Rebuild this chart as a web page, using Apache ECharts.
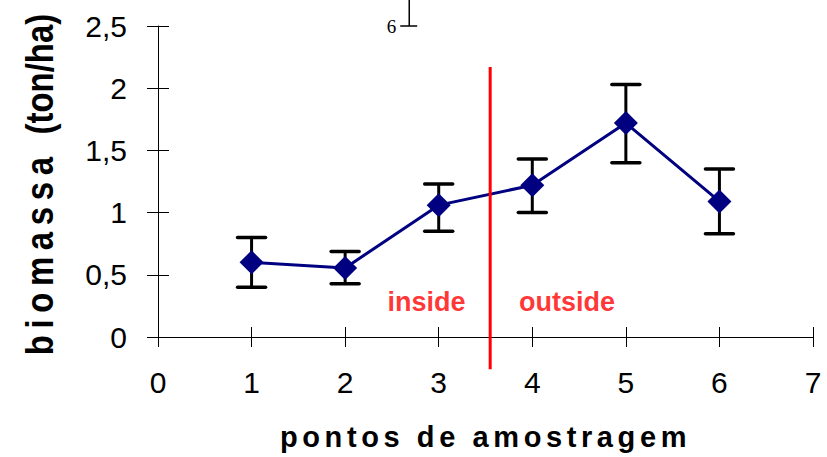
<!DOCTYPE html>
<html>
<head>
<meta charset="utf-8">
<script src="https://cdn.jsdelivr.net/npm/echarts@6/dist/echarts.min.js"></script>
<style>
html,body{margin:0;padding:0;background:#fff;}
#chart{width:827px;height:457px;}
#chart text[style*="29px"][style*="bold"]{letter-spacing:4.6px;}
#chart text[style*="33px"][style*="bold"]{letter-spacing:6.6px;}
</style>
</head>
<body>
<div id="chart"></div>
<script>
// ---- data ----
const xPoints = [1, 2, 3, 4, 5, 6];
const biomass = [0.60, 0.555, 1.06, 1.22, 1.72, 1.09];
const errUpper = [0.80, 0.687, 1.23, 1.43, 2.03, 1.35];
const errLower = [0.40, 0.428, 0.85, 1.00, 1.40, 0.83];
const dividerX = 3.55;
const dividerTop = 2.17;
const dividerBottom = -0.26;
const regionLabels = ['inside', 'outside'];
const regionLabelX = [2.87, 4.37];
const regionLabelY = [0.28, 0.28];
const strayMark = [2.685, 2.5];
const strayText = '6';
const xTitle = 'pontos de amostragem';
const yTitleMain = 'biomassa ';
const yTitleUnit = '(ton/ha)';

const chart = echarts.init(document.getElementById('chart'), null, {renderer: 'svg'});
const tickFont = {fontFamily: 'Liberation Sans', fontSize: 30, color: '#000'};
const fmtComma = v => String(v).replace('.', ',');

const gridLeft = 158, gridTop = 26, gridBottom = 120;
const yTitleSpacing = 6.6;
const measureCtx = document.createElement('canvas').getContext('2d');
measureCtx.font = 'bold 33px "Liberation Sans"';
const yMainWidth = measureCtx.measureText(yTitleMain).width + yTitleMain.length * yTitleSpacing;

const option = {
  animation: false,
  backgroundColor: '#fff',
  grid: {left: gridLeft, right: 14, top: gridTop, bottom: gridBottom, containLabel: false},
  graphic: [{
    type: 'text',
    x: gridLeft - 119, y: (gridTop + (457 - gridBottom)) / 2 + 3,
    rotation: Math.PI / 2, scaleY: 1.2,
    style: {
      text: '{a|' + yTitleMain + '}{b|' + yTitleUnit + '}',
      align: 'center', verticalAlign: 'middle',
      rich: {
        a: {fontFamily: 'Liberation Sans', fontSize: 33, fontWeight: 'bold', fill: '#000', width: yMainWidth},
        b: {fontFamily: 'Liberation Sans', fontSize: 33, fontWeight: 700, fill: '#000'}
      }
    }
  }],
  xAxis: [
    {
      type: 'value', min: 0, max: 7, interval: 1, position: 'bottom',
      axisLine: {show: true, onZero: false, lineStyle: {color: '#000', width: 1}},
      axisTick: {show: true, inside: false, length: 10, lineStyle: {color: '#000', width: 1}},
      axisLabel: Object.assign({margin: 30}, tickFont),
      splitLine: {show: false},
      name: xTitle, nameLocation: 'middle', nameGap: 85,
      nameTextStyle: {fontFamily: 'Liberation Sans', fontSize: 29, fontWeight: 'bold', color: '#000'}
    },
    {
      type: 'value', min: 0, max: 7, interval: 1, position: 'bottom',
      axisLine: {show: false, onZero: false},
      axisTick: {show: true, inside: true, length: 10, lineStyle: {color: '#000', width: 1}},
      axisLabel: {show: false}, splitLine: {show: false}
    }
  ],
  yAxis: [
    {
      type: 'value', min: 0, max: 2.5, interval: 0.5, position: 'left',
      axisLine: {show: true, onZero: false, lineStyle: {color: '#000', width: 1}},
      axisTick: {show: true, inside: false, length: 11, lineStyle: {color: '#000', width: 1}},
      axisLabel: Object.assign({margin: 31, formatter: fmtComma}, tickFont),
      splitLine: {show: false}
    },
    {
      type: 'value', min: 0, max: 2.5, interval: 0.5, position: 'left',
      axisLine: {show: false, onZero: false},
      axisTick: {show: true, inside: true, length: 11, lineStyle: {color: '#000', width: 1}},
      axisLabel: {show: false}, splitLine: {show: false}
    }
  ],
  series: [
    {
      type: 'custom', name: 'error', z: 2, clip: false,
      data: xPoints.map((x, i) => [x, errLower[i], errUpper[i]]),
      renderItem: function (params, api) {
        const x = api.value(0);
        const lo = api.coord([x, api.value(1)]);
        const hi = api.coord([x, api.value(2)]);
        const hw = 14;
        const st = {stroke: '#000', lineWidth: 3.5, lineCap: 'round'};
        return {type: 'group', children: [
          {type: 'line', shape: {x1: hi[0], y1: hi[1], x2: lo[0], y2: lo[1]}, style: {stroke: '#000', lineWidth: 3}},
          {type: 'line', shape: {x1: hi[0] - hw, y1: hi[1], x2: hi[0] + hw, y2: hi[1]}, style: st},
          {type: 'line', shape: {x1: lo[0] - hw, y1: lo[1], x2: lo[0] + hw, y2: lo[1]}, style: st}
        ]};
      }
    },
    {
      type: 'line', name: 'biomassa', z: 3,
      data: xPoints.map((x, i) => [x, biomass[i]]),
      symbol: 'diamond', symbolSize: 24, showSymbol: true,
      lineStyle: {color: '#000080', width: 3},
      itemStyle: {color: '#000080'}
    },
    {
      type: 'line', name: 'divider', z: 4, clip: false,
      data: [[dividerX, dividerTop], [dividerX, dividerBottom]],
      showSymbol: false, symbol: 'none',
      lineStyle: {color: '#ff0000', width: 3}
    },
    {
      type: 'scatter', name: 'regions', z: 5,
      data: regionLabels.map((t, i) => ({name: t, value: [regionLabelX[i], regionLabelY[i]]})),
      symbolSize: 0,
      label: {show: true, position: 'inside', formatter: p => p.name,
        fontFamily: 'Liberation Sans', fontSize: 27, fontWeight: 700, color: '#ff0000'}
    },
    {
      type: 'custom', name: 'stray', z: 5, clip: false,
      data: [strayMark],
      renderItem: function (params, api) {
        const p = api.coord([api.value(0), api.value(1)]);
        return {type: 'group', children: [
          {type: 'line', shape: {x1: p[0], y1: p[1], x2: p[0], y2: p[1] - 40}, style: {stroke: '#000', lineWidth: 1.5}},
          {type: 'line', shape: {x1: p[0] - 9, y1: p[1], x2: p[0] + 8, y2: p[1]}, style: {stroke: '#000', lineWidth: 1.5}},
          {type: 'text', x: p[0] - 13, y: p[1], style: {text: strayText, fill: '#000', fontSize: 19, fontFamily: 'Liberation Serif', align: 'right', verticalAlign: 'middle'}}
        ]};
      }
    }
  ]
};
chart.setOption(option);
</script>
</body>
</html>
